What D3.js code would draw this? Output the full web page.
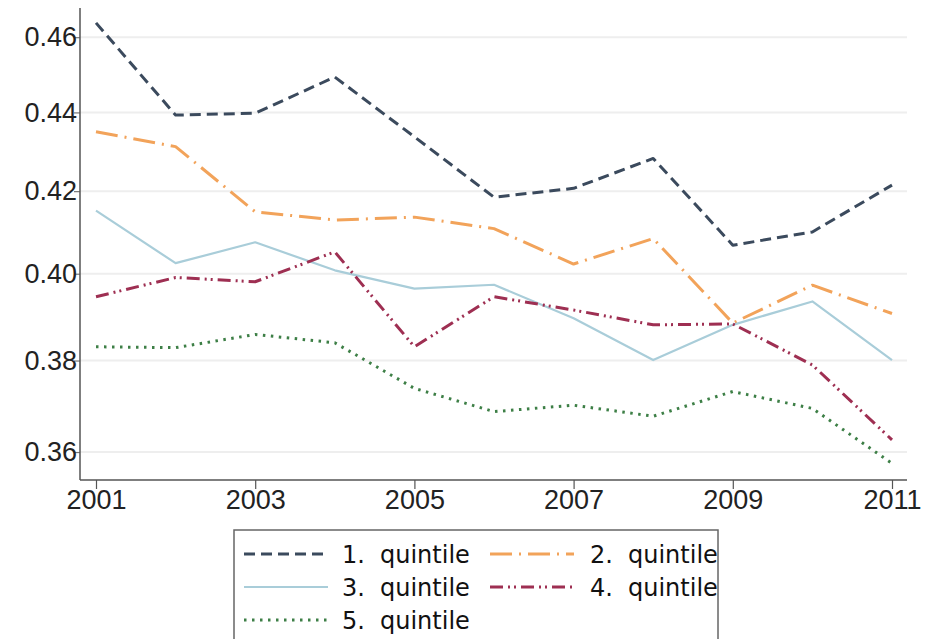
<!DOCTYPE html>
<html>
<head>
<meta charset="utf-8">
<script src="https://cdn.jsdelivr.net/npm/d3@7"></script>
<style>
  html, body { margin: 0; padding: 0; background: #fff; }
  svg { display: block; }
</style>
</head>
<body>
<svg id="chart" width="940" height="639"></svg>
<script>
const years = [2001, 2002, 2003, 2004, 2005, 2006, 2007, 2008, 2009, 2010, 2011];
const q1 = [0.4639, 0.4393, 0.4398, 0.4493, 0.4337, 0.4185, 0.4207, 0.4282, 0.4068, 0.4100, 0.4215];
const q2 = [0.4350, 0.4312, 0.4149, 0.4129, 0.4136, 0.4108, 0.4023, 0.4084, 0.3885, 0.3973, 0.3907];
const q3 = [0.4152, 0.4025, 0.4075, 0.4008, 0.3965, 0.3974, 0.3896, 0.3801, 0.3881, 0.3935, 0.3801];
const q4 = [0.3946, 0.3991, 0.3981, 0.4052, 0.3831, 0.3946, 0.3915, 0.3881, 0.3883, 0.3790, 0.3626];
const q5 = [0.3831, 0.3829, 0.3859, 0.3840, 0.3738, 0.3687, 0.3701, 0.3677, 0.3731, 0.3694, 0.3576];
const seriesNames = ["1.", "2.", "3.", "4.", "5."];
const seriesWord = "quintile";
const yTicks = [0.36, 0.38, 0.40, 0.42, 0.44, 0.46];
const xTicks = [2001, 2003, 2005, 2007, 2009, 2011];

const styles = [
  { color: "#3b4a5d", width: 3, dash: "11,6", cap: "butt" },
  { color: "#f2a35a", width: 3, dash: "22,7,2,7", cap: "butt" },
  { color: "#a9cdd9", width: 2.2, dash: null, cap: "butt" },
  { color: "#9e2f52", width: 3, dash: "13,5,2,4,2,5", cap: "butt" },
  { color: "#3d7f46", width: 3, dash: "2.5,5.5", cap: "butt" }
];
const data = [q1, q2, q3, q4, q5];

const svg = d3.select("#chart");
const x = d3.scaleLinear().domain([2001, 2011]).range([96, 892]);
const y = d3.scaleLog().domain([0.3541, 0.468]).range([480, 8]);
const plotLeft = 80, plotRight = 907, plotTop = 8, plotBottom = 480;

// gridlines
svg.append("g").selectAll("line").data(yTicks).join("line")
  .attr("x1", plotLeft).attr("x2", plotRight)
  .attr("y1", d => y(d)).attr("y2", d => y(d))
  .attr("stroke", "#eeeeee").attr("stroke-width", 2);

// y axis
const yAxis = svg.append("g").attr("transform", `translate(${plotLeft},0)`)
  .call(d3.axisLeft(y).tickValues(yTicks).tickFormat(d3.format(".2f")).tickSize(6).tickSizeOuter(0));
yAxis.select(".domain").remove();
yAxis.selectAll(".tick line").attr("stroke", "#777").attr("stroke-width", 1.2);
yAxis.selectAll(".tick text").attr("x", -3)
  .attr("font-family", "'Liberation Sans', Arial, sans-serif")
  .attr("font-size", 27).attr("fill", "#222");
svg.append("line").attr("x1", plotLeft).attr("x2", plotLeft)
  .attr("y1", plotTop).attr("y2", plotBottom).attr("stroke", "#555").attr("stroke-width", 1.5);

// x axis
const xAxis = svg.append("g").attr("transform", `translate(0,${plotBottom})`)
  .call(d3.axisBottom(x).tickValues(xTicks).tickFormat(d3.format("d")).tickSize(9).tickSizeOuter(0));
xAxis.select(".domain").remove();
xAxis.selectAll(".tick line").attr("stroke", "#555").attr("stroke-width", 1.2);
xAxis.selectAll(".tick text").attr("y", 10)
  .attr("font-family", "'Liberation Sans', Arial, sans-serif")
  .attr("font-size", 27).attr("fill", "#222");
svg.append("line").attr("x1", plotLeft).attr("x2", plotRight)
  .attr("y1", plotBottom).attr("y2", plotBottom).attr("stroke", "#555").attr("stroke-width", 1.5);

// lines
const line = d3.line().x((d, i) => x(years[i])).y(d => y(d));
data.forEach((vals, k) => {
  const s = styles[k];
  svg.append("path").datum(vals)
    .attr("d", line)
    .attr("fill", "none")
    .attr("stroke", s.color)
    .attr("stroke-width", s.width)
    .attr("stroke-linejoin", "round")
    .attr("stroke-linecap", s.cap)
    .attr("stroke-dasharray", s.dash);
});

// legend
const lg = svg.append("g");
lg.append("rect").attr("x", 234).attr("y", 530).attr("width", 484).attr("height", 140)
  .attr("fill", "#fff").attr("stroke", "#666").attr("stroke-width", 1.5);
const legendPos = [
  { sx: 244, tx: 342, cy: 554 },
  { sx: 490, tx: 590, cy: 554 },
  { sx: 244, tx: 342, cy: 587 },
  { sx: 490, tx: 590, cy: 587 },
  { sx: 244, tx: 342, cy: 620 }
];
seriesNames.forEach((nm, k) => {
  const p = legendPos[k], s = styles[k];
  lg.append("line").attr("x1", p.sx).attr("x2", p.sx + 84)
    .attr("y1", p.cy).attr("y2", p.cy)
    .attr("stroke", s.color).attr("stroke-width", s.width)
    .attr("stroke-dasharray", s.dash);
  const t = lg.append("text").attr("y", p.cy + 9)
    .attr("font-family", "'DejaVu Sans', sans-serif").attr("font-size", 24).attr("fill", "#111");
  t.append("tspan").attr("x", p.tx).text(nm);
  t.append("tspan").attr("x", p.tx + 38).text(seriesWord);
});
</script>
</body>
</html>
